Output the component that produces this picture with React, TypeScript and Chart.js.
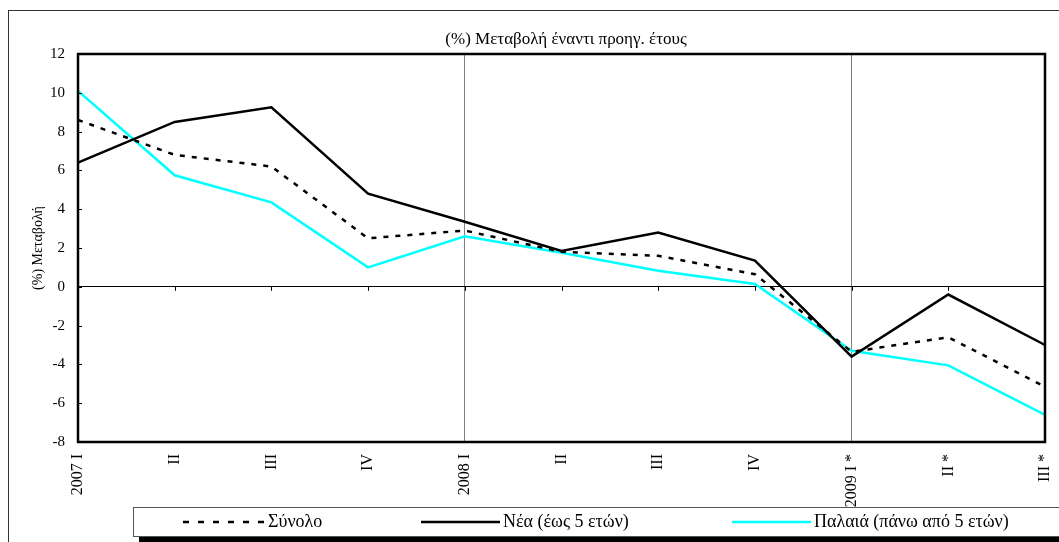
import React, { useEffect, useRef } from "react";
import { Chart, registerables } from "chart.js";

Chart.register(...registerables);

const categories = ["2007 I", "II", "III", "IV", "2008 I", "II", "III", "IV", "2009 I *", "II *", "III *"];
const synolo = [8.6, 6.8, 6.2, 2.5, 2.9, 1.8, 1.6, 0.65, -3.35, -2.6, -5.15];
const nea = [6.4, 8.5, 9.25, 4.8, 3.35, 1.85, 2.8, 1.35, -3.6, -0.4, -3.0];
const palaia = [10.1, 5.75, 4.35, 1.0, 2.6, 1.75, 0.83, 0.15, -3.3, -4.05, -6.6];
const seriesNames = ["Σύνολο", "Νέα (έως 5 ετών)", "Παλαιά (πάνω από 5 ετών)"];
const chartTitle = "(%) Μεταβολή έναντι προηγ. έτους";
const yTitle = "(%) Μεταβολή";
const yMin = -8;
const yMax = 12;
const yStep = 2;

const FONT = "'Liberation Serif', 'Times New Roman', serif";

const decorPlugin = {
  id: "decor",
  beforeDraw(chart: any) {
    const ctx = chart.ctx;
    ctx.save();
    ctx.fillStyle = "#fff";
    ctx.fillRect(0, 0, chart.width, chart.height);
    ctx.strokeStyle = "#333";
    ctx.lineWidth = 1;
    ctx.strokeRect(8.5, 10.5, chart.width + 10, chart.height + 10);
    ctx.restore();
  },
  afterDatasetsDraw(chart: any) {
    const ctx = chart.ctx;
    const a = chart.chartArea;
    const xs = chart.scales.x;
    const ys = chart.scales.y;
    ctx.save();
    const y0 = ys.getPixelForValue(0);
    ctx.strokeStyle = "#000";
    ctx.lineWidth = 1;
    ctx.beginPath();
    for (let i = 0; i < categories.length; i++) {
      const px = Math.round(xs.getPixelForValue(i)) + 0.5;
      ctx.moveTo(px, y0);
      ctx.lineTo(px, y0 + 4);
    }
    for (let v = yMin; v <= yMax; v += yStep) {
      const py = Math.round(ys.getPixelForValue(v)) + 0.5;
      ctx.moveTo(a.left, py);
      ctx.lineTo(a.left + 4, py);
    }
    ctx.stroke();
    ctx.lineWidth = 2.5;
    ctx.strokeRect(a.left, a.top, a.right - a.left, a.bottom - a.top);
    ctx.fillStyle = "#000";
    ctx.font = `17px ${FONT}`;
    ctx.textAlign = "center";
    ctx.textBaseline = "middle";
    ctx.fillText(chartTitle, 566, 40);
    const lt = 507.5;
    const lb = 536.5;
    ctx.fillStyle = "#000";
    ctx.fillRect(139, lb, chart.width, chart.height - lb);
    ctx.fillStyle = "#fff";
    ctx.fillRect(133.5, lt, chart.width, lb - lt);
    ctx.strokeStyle = "#555";
    ctx.lineWidth = 1;
    ctx.strokeRect(133.5, lt, chart.width, lb - lt);
    const ly = 522;
    const items = [
      { x0: 183, x1: 265, color: "#000", dash: [6, 9] },
      { x0: 421, x1: 500, color: "#000", dash: [] as number[] },
      { x0: 732, x1: 811, color: "#00FFFF", dash: [] as number[] },
    ];
    items.forEach((it, i) => {
      ctx.beginPath();
      ctx.setLineDash(it.dash);
      ctx.strokeStyle = it.color;
      ctx.lineWidth = 2.5;
      ctx.moveTo(it.x0, ly);
      ctx.lineTo(it.x1, ly);
      ctx.stroke();
      ctx.setLineDash([]);
      ctx.fillStyle = "#000";
      ctx.font = `18px ${FONT}`;
      ctx.textAlign = "left";
      ctx.textBaseline = "middle";
      ctx.fillText(seriesNames[i], it.x1 + 3, ly);
    });
    ctx.restore();
  },
};

export default function App() {
  const ref = useRef<HTMLCanvasElement | null>(null);
  useEffect(() => {
    if (!ref.current) return;
    const chart = new Chart(ref.current, {
      type: "line",
      data: {
        labels: categories,
        datasets: [
          { label: seriesNames[0], data: synolo, borderColor: "#000", borderWidth: 2.5, borderDash: [5, 7], pointRadius: 0, tension: 0, fill: false },
          { label: seriesNames[1], data: nea, borderColor: "#000", borderWidth: 2.5, pointRadius: 0, tension: 0, fill: false },
          { label: seriesNames[2], data: palaia, borderColor: "#00FFFF", borderWidth: 2.5, pointRadius: 0, tension: 0, fill: false },
        ],
      },
      options: {
        animation: false,
        responsive: false,
        devicePixelRatio: 1,
        layout: { padding: { left: 0, top: 54, right: 14, bottom: 0 } },
        plugins: { legend: { display: false }, tooltip: { enabled: false }, title: { display: false } },
        scales: {
          x: {
            type: "category",
            offset: false,
            border: { display: false },
            grid: {
              drawTicks: false,
              lineWidth: 1,
              color: (c: any) => (c.index === 4 || c.index === 8 ? "#808080" : "rgba(0,0,0,0)"),
            },
            ticks: {
              autoSkip: false,
              minRotation: 90,
              maxRotation: 90,
              padding: 12,
              color: "#000",
              font: { family: FONT, size: 16 },
            },
            afterFit: (s: any) => {
              s.height = 100;
              s.paddingLeft = 0;
              s.paddingRight = 0;
            },
          },
          y: {
            min: yMin,
            max: yMax,
            border: { display: false },
            grid: {
              drawTicks: false,
              lineWidth: 1,
              color: (c: any) => (c.tick && c.tick.value === 0 ? "#000" : "rgba(0,0,0,0)"),
            },
            ticks: {
              stepSize: yStep,
              padding: 13,
              color: "#000",
              font: { family: FONT, size: 15 },
            },
            title: {
              display: true,
              text: yTitle,
              color: "#000",
              font: { family: FONT, size: 14 },
              padding: { top: 30, bottom: 0 },
            },
            afterFit: (s: any) => {
              s.width = 78;
            },
          },
        },
      },
      plugins: [decorPlugin],
    });
    return () => chart.destroy();
  }, []);
  return (
    <div style={{ position: "fixed", left: 0, top: 0, width: 1059, height: 542 }}>
      <canvas ref={ref} width={1059} height={542} style={{ width: "1059px", height: "542px", display: "block" }} />
    </div>
  );
}
